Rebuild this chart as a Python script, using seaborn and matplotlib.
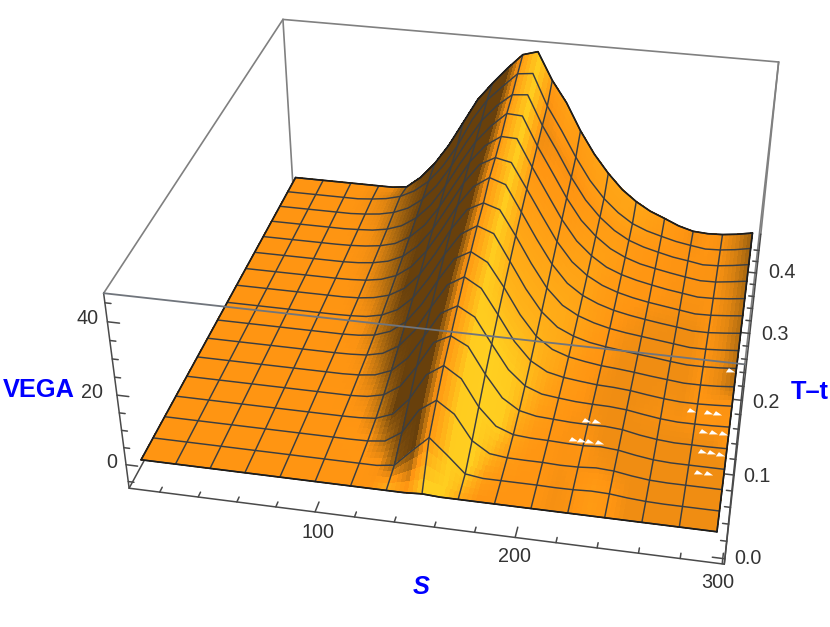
import numpy as np
import matplotlib
matplotlib.use("Agg")
import matplotlib.pyplot as plt
from matplotlib.colors import LinearSegmentedColormap
from matplotlib.path import Path
import seaborn as sns

sns.set_theme(style="white")
plt.rcParams["font.family"] = ["Liberation Sans", "DejaVu Sans"]

S_VALUES = [10, 18.94, 27.88, 36.81, 45.75, 54.69, 63.63, 72.56, 81.5, 90.44, 99.38,
            108.31, 117.25, 126.19, 135.13, 144.06, 153, 161.94, 170.88, 179.81, 188.75,
            197.69, 206.63, 215.56, 224.5, 233.44, 242.38, 251.31, 260.25, 269.19, 278.13,
            287.06, 296]
T_VALUES = [0.002, 0.03, 0.058, 0.086, 0.114, 0.142, 0.17, 0.198, 0.226, 0.254, 0.282,
            0.31, 0.338, 0.366, 0.394, 0.422, 0.45]

vega_00 = [0,0,0,0,0,0,0,0,0,0,0,0,0,0,0,0, 0.3, 0,0,0,0,0,0,0,0,0,0,0,0,0,0,0,0]
vega_01 = [0,0,0,0,0,0,0,0,0,0,0,0,0,0,0.7,5.5, 10, 5.5,0.7,0,0,0,0,-0.1,-0.05,0.2,0.05,-0.5,-0.85,-1,-1,-1,-1]
vega_02 = [0,0,0,0,0,0,0,0,0,0,0,0,0.1,0.7,3.9,11, 14.4, 11,3.9,0.7,0.1,0,0,-0.2,-0.1,0.3,0,-0.8,-1.4,-1.6,-1.6,-1.6,-1.6]
vega_03 = [0,0,0,0,0,0,0,0,0,0,0,0.1,0.5,2.4,7.5,15.1, 18.3, 15.1,7.5,2.4,0.5,0.1,0,-0.2,-0.3,0,-0.4,-1.3,-2,-2.3,-2.3,-2.3,-2.3]
vega_04 = [0,0,0,0,0,0,0,0,0,0,0,0.3,1.4,4.6,11,18.5, 21, 18.5,11,4.6,1.4,0.3,0,-0.3,-0.4,-0.3,-0.7,-1.7,-2.4,-2.8,-2.8,-2.8,-2.7]
vega_05 = [0,0,0,0,0,0,0,0,0,0,0.2,0.8,2.7,7,14,21.3, 24, 21.3,14,7,2.7,0.8,0.2,-0.3,-0.5,-0.6,-1,-1.8,-2.5,-2.9,-2.9,-2.8,-2.6]
vega_06 = [0,0,0,0,0,0,0,0,0,0.1,0.4,1.5,4.3,9.6,17,24.1, 26.9, 24.1,17,9.6,4.3,1.5,0.4,-0.2,-0.7,-0.9,-1.3,-2,-2.6,-3,-3,-2.8,-2.5]
vega_07 = [0,0,0,0,0,0,0,0,0,0.2,0.8,2.5,6,11.9,19.5,26.3, 28.9, 26.3,19.5,11.9,6,2.5,0.8,-0.1,-0.8,-1.2,-1.7,-2.3,-2.8,-3.3,-3.3,-3.1,-2.7]
vega_08 = [0,0,0,0,0,0,0,0,0.1,0.4,1.4,3.6,7.8,14.2,21.9,28.4, 31.3, 29.5,21.9,14.2,7.8,3.6,1.4,0,-0.8,-1.4,-2,-2.5,-3.1,-3.6,-3.6,-3.4,-3]
vega_09 = [0,0,0,0,0,0,0,0,0.2,0.8,2.1,4.8,9.6,16.5,24.3,30.6, 33, 31.5,24.3,16.5,9.6,4.8,2.1,0.4,-0.8,-1.6,-2.2,-2.8,-3.4,-4,-4,-3.7,-3.3]
vega_10 = [0,0,0,0,0,0,0,0.1,0.4,1.2,2.9,6.2,11.6,18.7,26.4,32.5, 35.6, 34,26.4,18.7,11.6,6.2,2.9,0.8,-0.7,-1.7,-2.5,-3.2,-3.8,-4.5,-4.5,-4.1,-3.6]
vega_11 = [0,0,0,0,0,0,0,0.2,0.7,1.7,3.8,7.6,13.4,20.8,28.4,34.3, 36.8, 35.8,28.4,20.8,13.4,7.6,3.8,1.2,-0.5,-1.7,-2.6,-3.3,-4,-4.7,-4.6,-4.2,-3.7]
vega_12 = [0,0,0,0,0,0,0.1,0.4,1,2.2,4.8,9,15.2,22.7,30,35.4, 38.5, 38.3,30.3,22.7,15.2,9,4.8,1.7,-0.2,-1.5,-2.5,-3.4,-4.1,-4.8,-4.7,-4.3,-3.7]
vega_13 = [0,0,0,0,0,0,0.2,0.5,1.3,2.9,5.9,10.5,17,24.6,31.6,36.8, 40.9, 40.6,32.1,24.6,17,10.5,5.9,2.4,0.1,-1.5,-2.5,-3.4,-4.2,-4.9,-4.8,-4.2,-3.5]
vega_14 = [0,0,0,0,0,0,0.3,0.8,1.8,3.7,7,12,18.7,26.5,33.5,38.5, 42.2, 42.6,33.8,26.5,18.7,12,7,3.2,0.5,-1.2,-2.4,-3.5,-4.2,-5,-4.8,-4.2,-3.4]
vega_15 = [0,0,0,0,0,0,0.4,1,2.2,4.5,8.1,13.5,20.4,29,35.5,40, 44.3, 44.8,35.4,28.2,20.4,13.5,8.1,4,0.9,-1,-2.3,-3.5,-4.3,-5,-4.8,-4.2,-3.3]
vega_16 = [0,0,0,0,0,0,0,0,0.6,4.2,9.2,15.6,23.3,31,36.5,41.5, 46, 47.3,39,32.5,24.2,17.2,11.5,6.7,3.2,0.5,-1.4,-3.4,-4.7,-5,-4.8,-4.2,-3.3]

glitch_S = [275, 284, 288.5, 283, 288, 293, 283.5, 288.5, 293, 283, 288, 292.5, 223, 228, 219, 223, 227, 232]
glitch_T = [0.16, 0.16, 0.16, 0.134, 0.134, 0.134, 0.106, 0.106, 0.106, 0.078, 0.078, 0.222, 0.12, 0.12, 0.092, 0.092, 0.092, 0.092]
glitch_Z = [-2.8, -2.8, -2.8, -2.8, -2.8, -2.8, -2.5, -2.5, -2.5, -2.2, -2.2, -3, -0.4, -0.4, -0.1, -0.1, -0.1, -0.1]

S_TICK_LABELS = ["100", "200", "300"]
Z_TICK_LABELS = ["0", "20", "40"]
T_TICK_LABELS = ["0.0", "0.1", "0.2", "0.3", "0.4"]

S = np.array(S_VALUES)
T = np.array(T_VALUES)
Z = np.array([vega_00, vega_01, vega_02, vega_03, vega_04, vega_05, vega_06, vega_07, vega_08,
              vega_09, vega_10, vega_11, vega_12, vega_13, vega_14, vega_15, vega_16], float)

# box limits
S0, S1, T0, T1, Z0, Z1 = 4.0, 301.0, -0.006, 0.47, -7.0, 47.5

# camera calibration (box landmarks -> output pixels)
cal = [
    ((S0, T0, Z0), (129.3, 489.3)), ((S0, T0, Z1), (104.0, 292.7)),
    ((S0, T1, Z1), (280.7, 21.0)), ((S1, T1, Z1), (781.7, 63.3)),
    ((S1, T0, Z1), (743.0, 363.0)), ((S1, T0, Z0), (725.0, 566.0)),
    ((100, T0, Z0), (315.7, 512.5)), ((200, T0, Z0), (515.0, 539.0)),
    ((S1, 0.1, Z0), (734.4, 474.0)), ((S1, 0.2, Z0), (742.0, 400.0)),
    ((S1, 0.3, Z0), (749.0, 332.0)), ((S1, 0.4, Z0), (755.0, 273.0)),
    ((S0, T0, 0), (126.2, 465.0)), ((S0, T0, 20), (117.0, 395.0)), ((S0, T0, 40), (107.6, 320.0)),
    ((10, 0.45, 0), (296.7, 176.0)),
]
norm = np.diag([1 / 300.0, 1 / 0.45, 1 / 50.0, 1.0])
rows = []
for (x, y, z), (u, v) in cal:
    X = norm @ np.array([x, y, z, 1.0])
    rows.append(np.r_[X, 0, 0, 0, 0, -u * X])
    rows.append(np.r_[0, 0, 0, 0, X, -v * X])
P = np.linalg.svd(np.array(rows))[2][-1].reshape(3, 4) @ norm
if P[2] @ np.array([150, 0.2, 20, 1.0]) < 0:
    P = -P

fig = plt.figure(figsize=(8.3, 6.27), dpi=100)
ax = fig.add_axes([0, 0, 1, 1], projection="3d", computed_zorder=False)
ax.set_axis_off()
ax.patch.set_visible(False)


def camera():
    inv = ax.transData.inverted()
    a = inv.transform((0, 627))
    b = inv.transform((830, 0))
    sx, sy = (b[0] - a[0]) / 830.0, (b[1] - a[1]) / 627.0
    return np.array([sx * P[0] + a[0] * P[2], sy * P[1] + a[1] * P[2],
                     [0, 0, 0, -1.0], P[2]])


ax.get_proj = camera

# Gouraud-style shading: the facets of the table keep their geometry, each one is
# painted in small pieces so that the vertex shades blend across it.
p = np.gradient(Z, axis=1)
q = np.gradient(Z, axis=0)
row_light = (1.1 - 0.8 * np.arange(len(T)) / 16.0)[:, None]
bright = np.clip(q * 0.55 * row_light - np.clip(-p - 3, 0, None) * 0.1, -0.1, 1)
dark = np.clip(p / 3.5, 0, 1) ** 0.9 * np.clip(p / 1.2, 0, 1)
shade = np.where(p > 0.05, -dark, bright)
shade[1:, 16] = 0.2
shade[1:, 17] = 0.95
shade[7:, -1] -= 0.45
shade[7:, -2] -= 0.12
shade = np.clip(shade, -1, 1)
cmap = LinearSegmentedColormap.from_list("gold", [(0, "#68400c"), (0.25, "#b06c10"), (0.5, "#ff9512"),
                                                  (0.75, "#ffae18"), (1, "#ffcf20")])
PIECES = 4


def pieces(A):
    ni, nj = A.shape
    ii = np.linspace(0, ni - 1, (ni - 1) * PIECES + 1)
    jj = np.linspace(0, nj - 1, (nj - 1) * PIECES + 1)
    out = np.array([np.interp(jj, np.arange(nj), row) for row in A])
    return np.array([np.interp(ii, np.arange(ni), col) for col in out.T]).T


SS, TT = np.meshgrid(S, T)
ax.plot_surface(pieces(SS), pieces(TT), pieces(Z), rstride=1, cstride=1,
                facecolors=cmap(0.5 + 0.5 * pieces(shade)), shade=False,
                linewidth=0.3, antialiased=False, zorder=2)

mesh = dict(color="#3a3e42", lw=1.05, zorder=3)
for j in range(len(T)):
    ax.plot(S, np.full_like(S, T[j]), Z[j], **mesh)
for i in range(0, len(S), 2):
    ax.plot(np.full_like(T, S[i]), T, Z[:, i], **mesh)
edge = dict(color="#1c1c1c", lw=1.2, zorder=3)
ax.plot(S, np.full_like(S, T[0]), Z[0], **edge)
ax.plot(S, np.full_like(S, T[-1]), Z[-1], **edge)
ax.plot(np.full_like(T, S[0]), T, Z[:, 0], **edge)
ax.plot(np.full_like(T, S[-1]), T, Z[:, -1], **edge)

wedge = Path([(-0.6, -0.25), (0.6, -0.25), (-0.2, 0.3), (-0.6, -0.25)])
ax.scatter(glitch_S, glitch_T, glitch_Z, marker=wedge, s=45, c="white", linewidths=0,
           depthshade=False, zorder=5)

# box
back = dict(color="#808080", lw=1.2, zorder=1)
front = dict(color="#70757c", lw=1.3, zorder=4)
axis_c = dict(color="#4a4a4a", lw=1.1, zorder=1)
ax.plot([S0, S0], [T1, T1], [Z0, Z1], **back)
ax.plot([S1, S1], [T1, T1], [Z0, Z1], **back)
ax.plot([S0, S0], [T0, T1], [Z1, Z1], **back)
ax.plot([S0, S1], [T1, T1], [Z1, Z1], **back)
ax.plot([S1, S1], [T0, T1], [Z1, Z1], **back)
ax.plot([S0, S1], [T0, T0], [Z1, Z1], **front)
ax.plot([S0, S0], [T0, T0], [Z0, Z1], **axis_c)
ax.plot([S1, S1], [T0, T0], [Z0, Z1], **axis_c)
ax.plot([S0, S1], [T0, T0], [Z0, Z0], **axis_c)
ax.plot([S0, S0], [T0, T1], [Z0, Z0], **axis_c)
ax.plot([S1, S1], [T0, T1], [Z0, Z0], **axis_c)

for v in range(20, 301, 20):
    ln = 0.012 if v % 100 == 0 else 0.006
    ax.plot([v, v], [T0, T0 + ln], [Z0, Z0], **axis_c)
for v in range(-5, 46, 5):
    ln = 6 if v % 20 == 0 else 3
    ax.plot([S0, S0 + ln], [T0, T0], [v, v], **axis_c)
for v in np.arange(0, 0.45, 0.02):
    ln = 6 if abs(v * 10 - round(v * 10)) < 1e-6 else 3
    ax.plot([S1, S1 - ln], [v, v], [Z0, Z0], **axis_c)

for art in ax.get_children():
    art.set_clip_on(False)


def px(x, y, s, **kw):
    fig.text(x / 830.0, 1 - y / 627.0, s, ha="center", va="center", **kw)


tick = dict(color="#333333", fontsize=14.2)
for (x, y), s in zip([(318, 533), (514, 556), (718, 582)], S_TICK_LABELS):
    px(x, y, s, **tick)
for (x, y), s in zip([(112, 463), (92, 392), (88, 319)], Z_TICK_LABELS):
    px(x, y, s, **tick)
for (x, y), s in zip([(748, 559), (757, 476), (766, 402), (775, 335), (782, 273)], T_TICK_LABELS):
    px(x, y, s, **tick)
lab = dict(color="#0000ff", fontsize=18.3, fontweight="bold")
px(39, 390, "VEGA", **lab)
px(421, 587, "S", fontstyle="italic", **lab)
px(810, 392, "T\u2013t", **lab)

fig.savefig("out.png", dpi=100, facecolor="white")
